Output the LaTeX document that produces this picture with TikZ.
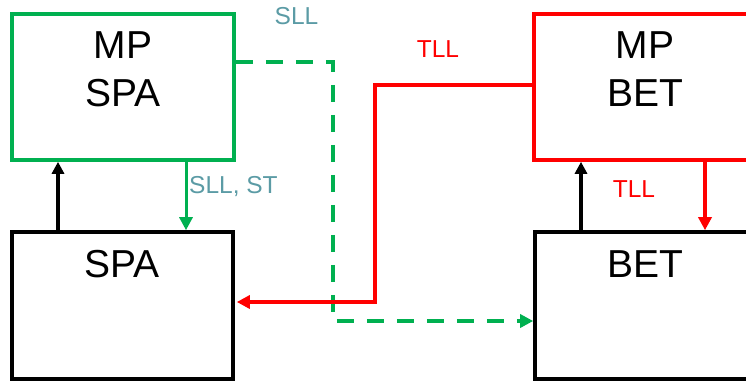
\documentclass[tikz,border=0pt]{standalone}
\usepackage{fontspec}
\setmainfont{Liberation Sans}
\usetikzlibrary{arrows.meta}
\definecolor{boxgreen}{RGB}{0,176,80}
\definecolor{boxred}{RGB}{255,0,0}
\definecolor{lbl}{RGB}{91,155,165}
\begin{document}
\begin{tikzpicture}[x=1pt,y=-1pt,
  box/.style={draw, line width=3.6pt, minimum width=222pt, minimum height=146pt, inner sep=0pt},
  bigtxt/.style={font=\fontsize{39}{46}\selectfont, anchor=base, inner sep=0pt},
  smalltxt/.style={font=\fontsize{24.5}{29}\selectfont, anchor=base, inner sep=0pt},
  blk/.style={draw=black, line width=3.5pt, -{Triangle[length=12pt,width=12pt]}},
  grn/.style={draw=boxgreen, line width=3pt, -{Triangle[length=13pt,width=13pt]}},
  grndash/.style={draw=boxgreen, line width=3.5pt, dash pattern=on 17pt off 13pt, -{Triangle[length=13pt,width=13pt]}},
  rd/.style={draw=boxred, line width=3.5pt, -{Triangle[length=13pt,width=13pt]}}]
\useasboundingbox (0,0) rectangle (746,383);
\clip (0,0) rectangle (746,383);
% boxes
\node[box, draw=boxgreen] (mpspa) at (123,87) {};
\node[box, draw=black, minimum width=221pt, minimum height=147pt] (spa) at (122.5,305.5) {};
\node[box, draw=boxred] (mpbet) at (645,87) {};
\node[box, draw=black, minimum height=147pt] (bet) at (646,305.5) {};
% box texts
\node[bigtxt] (t1) at (123,58) {MP};
\node[bigtxt] (t2) at (123,106) {SPA};
\node[bigtxt] (t3) at (122,277) {SPA};
\node[bigtxt] (t4) at (645,58) {MP};
\node[bigtxt] (t5) at (645,106) {BET};
\node[bigtxt] (t6) at (645,277) {BET};
% labels
\node[smalltxt, text=lbl] (l1) at (296.5,24) {SLL};
\node[smalltxt, text=lbl, anchor=base west] (l2) at (189,193) {SLL, ST};
\node[smalltxt, text=boxred] (l3) at (438,57.5) {TLL};
\node[smalltxt, text=boxred] (l4) at (634,197) {TLL};
% corner coordinates
\coordinate (gc) at (333,321);
\coordinate (rc) at (375,85);
% connectors
\draw[blk] ([xshift=-64.5pt]spa.north) -- ([xshift=-65pt]mpspa.south);
\draw[grn] ([xshift=63pt]mpspa.south) -- ([xshift=63.5pt]spa.north);
\draw[grndash] ([yshift=25pt]mpspa.east) -| (gc) -- (gc -| bet.west);
\draw[rd] ([yshift=2pt]mpbet.west) -- (rc) |- ([yshift=3.5pt,xshift=2pt]spa.east);
\draw[blk] ([xshift=-65pt]bet.north) -- ([xshift=-64pt]mpbet.south);
\draw[rd] ([xshift=60pt]mpbet.south) -- ([xshift=59pt]bet.north);
\end{tikzpicture}
\end{document}
